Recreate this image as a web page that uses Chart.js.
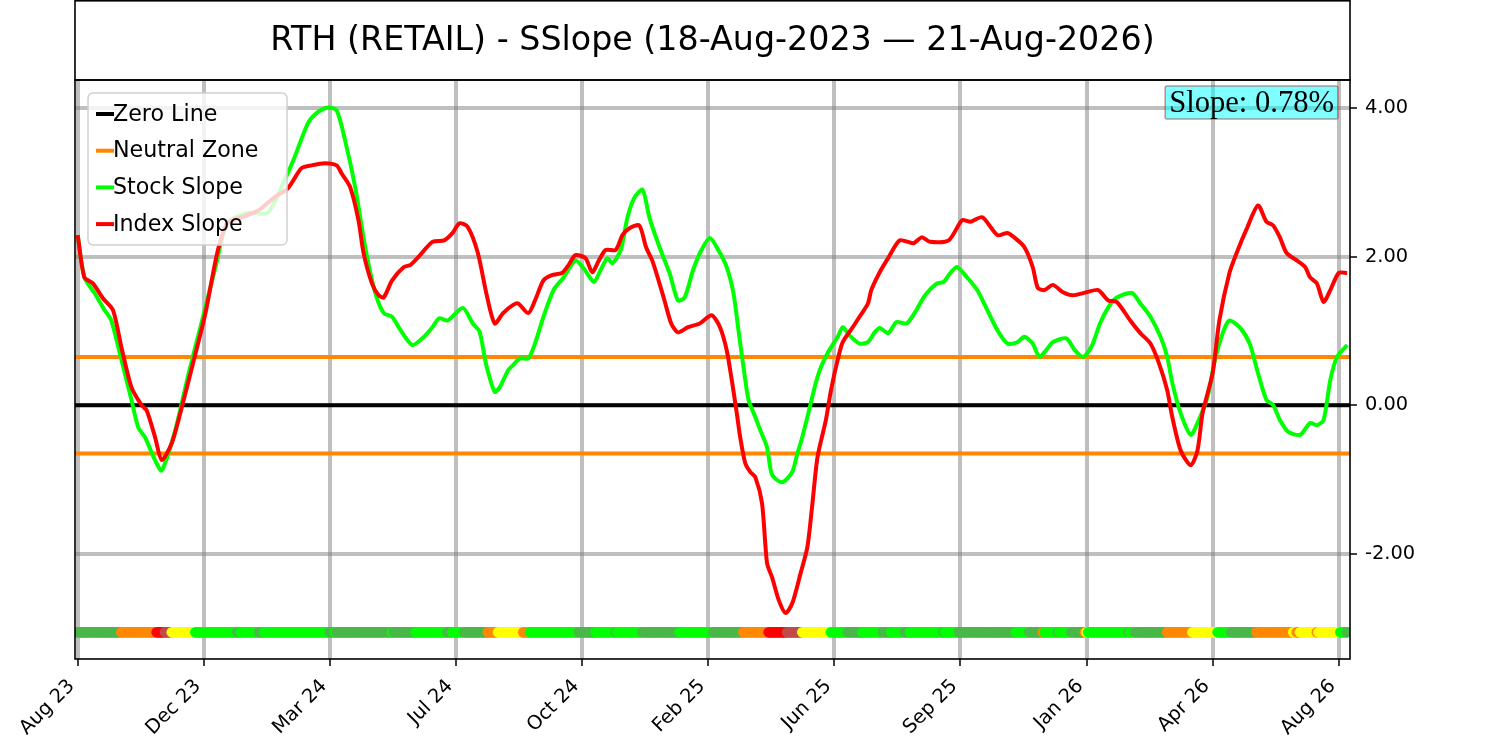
<!DOCTYPE html>
<html>
<head>
<meta charset="utf-8">
<script src="https://cdn.jsdelivr.net/npm/chart.js@4.4.1/dist/chart.umd.min.js"></script>
<style>
  html, body { margin: 0; padding: 0; background: #fff; }
  #wrap { width: 1500px; height: 741px; }
</style>
</head>
<body>
<div id="wrap"><canvas id="myChart" width="1500" height="741"></canvas></div>
<script>
// trading-day index on x, slope % on y
const xTickDays = [0, 75, 150, 225, 300, 375, 450, 525, 600, 675, 750];
const xTickLabels = ["Aug 23", "Dec 23", "Mar 24", "Jul 24", "Oct 24", "Feb 25",
                     "Jun 25", "Sep 25", "Jan 26", "Apr 26", "Aug 26"];
const yTicks = [-2, 0, 2, 4];
const neutralZone = 0.65;
const slopeText = "Slope: 0.78%";
const titleText = "RTH (RETAIL) - SSlope (18-Aug-2023 \u2014 21-Aug-2026)";

const stockDay = [
  0, 4, 10, 16, 20, 26, 32, 36, 40, 46,
  50, 58, 66, 74, 82, 89, 101, 113, 123, 129,
  137, 143, 149, 154, 159, 165, 171, 177, 182, 187,
  192, 199, 205, 211, 215, 220, 229, 235, 239, 243,
  248, 251, 256, 259, 263, 268, 272, 277, 283, 289,
  296, 301, 307, 311, 315, 318, 323, 327, 331, 336,
  340, 346, 352, 357, 361, 366, 371, 376, 381, 386,
  390, 393, 396, 399, 403, 406, 410, 413, 419, 425,
  428, 430, 434, 439, 442, 446, 452, 455, 459, 465,
  470, 474, 477, 482, 487, 493, 498, 504, 511, 515,
  519, 523, 529, 535, 541, 547, 553, 559, 563, 568,
  572, 577, 580, 588, 593, 598, 603, 608, 613, 618,
  627, 632, 638, 644, 648, 651, 656, 662, 666, 672,
  676, 681, 685, 691, 697, 702, 707, 711, 715, 720,
  727, 733, 737, 741, 745, 749, 755
];
const stockSlope = [
  2.29, 1.72, 1.51, 1.28, 1.14, 0.61, 0.07, -0.30, -0.43, -0.74,
  -0.88, -0.34, 0.43, 1.14, 1.86, 2.45, 2.59, 2.59, 3.03, 3.34,
  3.80, 3.95, 4.01, 3.97, 3.57, 2.94, 2.13, 1.51, 1.24, 1.19,
  1.01, 0.81, 0.90, 1.05, 1.17, 1.14, 1.31, 1.10, 0.99, 0.54,
  0.18, 0.24, 0.47, 0.54, 0.63, 0.63, 0.83, 1.19, 1.55, 1.72,
  1.95, 1.84, 1.66, 1.82, 1.98, 1.91, 2.09, 2.53, 2.79, 2.90,
  2.53, 2.13, 1.78, 1.41, 1.45, 1.82, 2.09, 2.25, 2.09, 1.86,
  1.51, 1.01, 0.51, 0.07, -0.16, -0.34, -0.57, -0.94, -1.04, -0.90,
  -0.65, -0.51, -0.16, 0.30, 0.51, 0.70, 0.92, 1.05, 0.94, 0.83,
  0.85, 0.98, 1.04, 0.97, 1.12, 1.10, 1.25, 1.48, 1.64, 1.66,
  1.78, 1.86, 1.72, 1.55, 1.28, 1.01, 0.83, 0.85, 0.92, 0.83,
  0.65, 0.77, 0.85, 0.90, 0.74, 0.65, 0.79, 1.10, 1.32, 1.45,
  1.51, 1.37, 1.19, 0.92, 0.65, 0.30, -0.11, -0.40, -0.24, 0.11,
  0.57, 0.97, 1.14, 1.05, 0.83, 0.43, 0.07, 0.00, -0.20, -0.36,
  -0.40, -0.24, -0.27, -0.20, 0.34, 0.65, 0.81
];

const indexDay = [
  0, 4, 9, 15, 21, 26, 32, 38, 41, 46,
  50, 56, 61, 68, 76, 83, 89, 100, 108, 117,
  125, 133, 139, 147, 154, 157, 162, 167, 170, 175,
  179, 182, 187, 194, 198, 202, 211, 218, 223, 227,
  232, 238, 243, 248, 253, 259, 262, 268, 272, 277,
  282, 288, 292, 296, 302, 306, 310, 314, 320, 324,
  328, 334, 338, 342, 346, 349, 353, 357, 363, 370,
  377, 382, 386, 389, 392, 394, 397, 400, 403, 407,
  410, 413, 417, 421, 425, 430, 434, 437, 440, 445,
  448, 452, 455, 461, 465, 470, 472, 477, 482, 489,
  497, 502, 507, 518, 526, 531, 538, 547, 553, 557,
  563, 568, 571, 575, 580, 586, 592, 600, 607, 613,
  618, 626, 632, 638, 643, 648, 651, 656, 662, 666,
  669, 675, 679, 685, 690, 695, 702, 707, 711, 715,
  719, 725, 730, 733, 737, 741, 745, 750, 755
];
const indexSlope = [
  2.29, 1.72, 1.64, 1.44, 1.28, 0.78, 0.24, 0.00, -0.07, -0.43,
  -0.74, -0.51, -0.11, 0.51, 1.24, 2.05, 2.45, 2.55, 2.63, 2.80,
  2.92, 3.19, 3.23, 3.26, 3.23, 3.12, 2.94, 2.49, 2.05, 1.64,
  1.48, 1.45, 1.68, 1.86, 1.89, 1.98, 2.20, 2.22, 2.32, 2.45,
  2.40, 2.05, 1.51, 1.10, 1.24, 1.35, 1.37, 1.24, 1.41, 1.68,
  1.75, 1.78, 1.89, 2.02, 1.98, 1.79, 1.95, 2.09, 2.09, 2.29,
  2.38, 2.42, 2.13, 1.93, 1.64, 1.41, 1.10, 0.98, 1.05, 1.10,
  1.21, 1.05, 0.74, 0.34, -0.11, -0.43, -0.78, -0.90, -0.97, -1.32,
  -2.13, -2.32, -2.63, -2.80, -2.67, -2.26, -1.91, -1.32, -0.70, -0.20,
  0.20, 0.61, 0.85, 1.05, 1.19, 1.37, 1.55, 1.79, 1.98, 2.22,
  2.18, 2.26, 2.20, 2.22, 2.49, 2.47, 2.53, 2.29, 2.32, 2.26,
  2.13, 1.86, 1.58, 1.55, 1.62, 1.52, 1.48, 1.52, 1.55, 1.41,
  1.39, 1.14, 0.97, 0.83, 0.57, 0.20, -0.16, -0.61, -0.81, -0.61,
  -0.11, 0.43, 1.14, 1.78, 2.09, 2.36, 2.69, 2.47, 2.42, 2.26,
  2.05, 1.95, 1.86, 1.72, 1.64, 1.39, 1.55, 1.78, 1.78
];

// signal strip: run starts (day) and state code of each run
const signalStart = [
  0, 26, 47, 52, 56, 70, 95, 97, 108, 111,
  150, 153, 154, 187, 188, 201, 220, 223, 230, 244,
  250, 265, 269, 298, 308, 320, 321, 336, 358, 378,
  396, 411, 422, 431, 448, 458, 467, 479, 484, 492,
  495, 515, 516, 524, 558, 566, 574, 575, 583, 584,
  591, 599, 600, 601, 625, 626, 629, 648, 663, 678,
  686, 701, 723, 725, 727, 737, 738, 751, 755
];
const signalState = [
  "D", "O", "R", "B", "Y", "L", "D", "L", "D", "L",
  "D", "L", "D", "L", "D", "L", "D", "L", "D", "O",
  "Y", "O", "L", "D", "L", "D", "L", "D", "L", "D",
  "O", "R", "B", "Y", "L", "D", "L", "D", "L", "D",
  "L", "D", "L", "D", "L", "D", "O", "L", "D", "L",
  "D", "O", "Y", "L", "D", "L", "D", "O", "Y", "L",
  "D", "O", "Y", "O", "Y", "O", "Y", "L", "D"
];
const lastDay = 755;
const signalLevel = -3.06;

const stateColors = { L: "#00ff00", D: "#48b848", O: "#ff8800", R: "#ff0000", B: "#c04a4a", Y: "#ffff00" };
const xMin = -1.6, xMax = 756.7;
const yMin = -3.42, yMax = 4.38;

function toPoints(days, vals) {
  return days.map((d, i) => ({ x: d, y: vals[i] }));
}

function buildSignal() {
  let pts = [], cols = [];
  let run = 0;
  for (let d = 0; d <= lastDay; d++) {
    while (run + 1 < signalStart.length && signalStart[run + 1] <= d) run++;
    pts.push({ x: d, y: signalLevel });
    cols.push(stateColors[signalState[run]]);
  }
  return { pts, cols };
}

const signal = buildSignal();
const legendItems = [
  { label: "Zero Line", color: "#000000" },
  { label: "Neutral Zone", color: "#ff8800" },
  { label: "Stock Slope", color: "#00ff00" },
  { label: "Index Slope", color: "#ff0000" }
];

const framePlugin = {
  id: 'frame',
  afterDraw(chart) {
    const ctx = chart.ctx;
    const a = chart.chartArea;
    ctx.save();
    // title box
    ctx.strokeStyle = '#000';
    ctx.lineWidth = 1.6;
    ctx.strokeRect(a.left, 0.8, a.right - a.left, a.top - 0.8);
    ctx.fillStyle = '#000';
    ctx.font = '33.3px "DejaVu Sans"';
    ctx.textAlign = 'center';
    ctx.textBaseline = 'middle';
    ctx.fillText(titleText, (a.left + a.right) / 2, 41);
    // spines
    ctx.strokeRect(a.left, a.top, a.right - a.left, a.bottom - a.top);

    // legend
    const lx = 88, ly = 93, lw = 199, lh = 152;
    ctx.beginPath();
    ctx.roundRect(lx, ly, lw, lh, 5);
    ctx.fillStyle = 'rgba(255,255,255,0.8)';
    ctx.fill();
    ctx.strokeStyle = '#d0d0d0';
    ctx.lineWidth = 1.5;
    ctx.stroke();
    ctx.font = '22.2px "DejaVu Sans"';
    ctx.textAlign = 'left';
    legendItems.forEach((it, i) => {
      const y = 114 + i * 36.7;
      ctx.strokeStyle = it.color;
      ctx.lineWidth = 4;
      ctx.beginPath();
      ctx.moveTo(96, y);
      ctx.lineTo(114, y);
      ctx.stroke();
      ctx.fillStyle = '#000';
      ctx.fillText(it.label, 113, y + 1);
    });

    // slope box
    ctx.font = '30.6px "Liberation Serif"';
    const tw = ctx.measureText(slopeText).width;
    const bx = 1338 - tw - 8, by = 86, bh = 33;
    ctx.beginPath();
    ctx.roundRect(bx, by, tw + 8, bh, 2);
    ctx.fillStyle = 'rgba(0,255,255,0.5)';
    ctx.fill();
    ctx.strokeStyle = 'rgba(160,40,40,0.5)';
    ctx.lineWidth = 1.5;
    ctx.stroke();
    ctx.fillStyle = '#000';
    ctx.textBaseline = 'middle';
    ctx.fillText(slopeText, bx + 4, by + bh / 2 + 1);
    ctx.restore();
  }
};

const ctx = document.getElementById('myChart').getContext('2d');
const myChart = new Chart(ctx, {
  type: 'line',
  data: {
    datasets: [
      {
        label: 'Index Slope',
        data: toPoints(indexDay, indexSlope),
        borderColor: '#ff0000',
        borderWidth: 4,
        pointRadius: 0,
        tension: 0.25,
        clip: 0,
        order: 1
      },
      {
        label: 'Stock Slope',
        data: toPoints(stockDay, stockSlope),
        borderColor: '#00ff00',
        borderWidth: 4,
        pointRadius: 0,
        tension: 0.25,
        clip: 0,
        order: 2
      },
      {
        label: 'Zero Line',
        data: [{ x: xMin, y: 0 }, { x: xMax, y: 0 }],
        borderColor: '#000000',
        borderWidth: 4,
        pointRadius: 0,
        clip: 0,
        order: 3
      },
      {
        label: 'Neutral Zone',
        data: [{ x: xMin, y: neutralZone }, { x: xMax, y: neutralZone }],
        borderColor: '#ff8800',
        borderWidth: 4,
        pointRadius: 0,
        clip: 0,
        order: 4
      },
      {
        label: 'Neutral Low',
        data: [{ x: xMin, y: -neutralZone }, { x: xMax, y: -neutralZone }],
        borderColor: '#ff8800',
        borderWidth: 4,
        pointRadius: 0,
        clip: 0,
        order: 4
      },
      {
        label: 'Signal',
        data: signal.pts,
        showLine: false,
        pointRadius: 5.4,
        pointBorderWidth: 0,
        pointBackgroundColor: signal.cols,
        pointBorderColor: signal.cols,
        clip: 0,
        order: 5
      }
    ]
  },
  options: {
    responsive: false,
    animation: false,
    devicePixelRatio: 1,
    layout: { padding: { left: 75, top: 80, right: 0, bottom: 0 } },
    plugins: {
      legend: { display: false },
      tooltip: { enabled: false },
      title: { display: false }
    },
    scales: {
      x: {
        type: 'linear',
        min: xMin,
        max: xMax,
        afterBuildTicks: (s) => { s.ticks = xTickDays.map(v => ({ value: v })); },
        afterFit: (s) => { s.height = 82; },
        ticks: {
          autoSkip: false,
          minRotation: 45,
          maxRotation: 45,
          padding: 9,
          labelOffset: -6,
          color: '#000',
          font: { family: 'DejaVu Sans', size: 19.4 },
          callback: (v, i) => xTickLabels[i]
        },
        grid: { color: 'rgba(128,128,128,0.5)', lineWidth: 4, tickColor: '#000', tickWidth: 1.5, tickLength: 7 },
        border: { display: false }
      },
      y: {
        position: 'right',
        min: yMin,
        max: yMax,
        afterBuildTicks: (s) => { s.ticks = yTicks.map(v => ({ value: v })); },
        afterFit: (s) => { s.width = 150; },
        ticks: {
          padding: 8,
          color: '#000',
          font: { family: 'DejaVu Sans', size: 19.4 },
          callback: (v) => v.toFixed(2)
        },
        grid: { color: 'rgba(128,128,128,0.5)', lineWidth: 4, tickColor: '#000', tickWidth: 1.5, tickLength: 7 },
        border: { display: false }
      }
    }
  },
  plugins: [framePlugin]
});
</script>
</body>
</html>
